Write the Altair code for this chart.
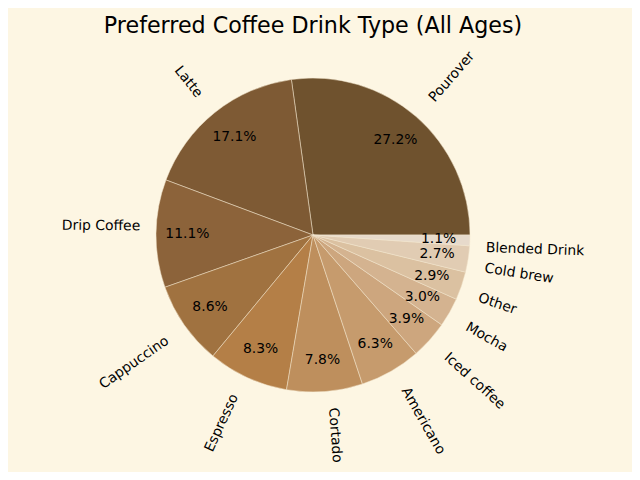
import math
import altair as alt
import pandas as pd

drinks = ["Pourover", "Latte", "Drip Coffee", "Cappuccino", "Espresso", "Cortado",
          "Americano", "Iced coffee", "Mocha", "Other", "Cold brew", "Blended Drink"]
shares = [27.2, 17.1, 11.1, 8.6, 8.3, 7.8, 6.3, 3.9, 3.0, 2.9, 2.7, 1.1]
colors = ["#6F522E", "#7E5A34", "#8C633A", "#A07240", "#B47F47", "#BE8F5D",
          "#C69B6D", "#CDA67E", "#D4B390", "#DBC1A1", "#E1CCB3", "#E7DACB"]

BG = "#fdf6e3"
FONT = "DejaVu Sans"
FS = 13.9          # label font size (10pt)
R = 157            # pie radius in px
LABEL_R = 1.1 * R  # label distance
PCT_R = 0.8 * R    # percentage distance
HALF_H = 7.0       # half the height of a label box

df = pd.DataFrame({"drink": drinks, "share": shares, "order": list(range(len(drinks)))})

theta_scale = alt.Scale(domain=[0, 100], range=[math.pi / 2, math.pi / 2 + 2 * math.pi])
color_enc = alt.Color("drink:N", scale=alt.Scale(domain=drinks, range=colors), legend=None)

base = alt.Chart(df)

arcs = base.mark_arc(outerRadius=R, stroke="#f3e6cf", strokeWidth=0.5).encode(
    theta=alt.Theta("tstart:Q", scale=theta_scale, stack=None),
    theta2="tend:Q",
    color=color_enc,
)

pct_text = base.mark_text(radius=PCT_R, font=FONT, fontSize=FS, color="black",
                          align="center", baseline="middle").encode(
    theta=alt.Theta("tmid:Q", scale=theta_scale, stack=None),
    text="pctlabel:N",
)

label_layers = []
for align, cond in (("left", "datum.cx > 0"), ("right", "datum.cx <= 0")):
    lyr = base.transform_filter(cond).mark_text(
        font=FONT, fontSize=FS, color="black", align=align, baseline="middle",
    ).encode(
        theta=alt.Theta("ltheta:Q", scale=theta_scale, stack=None),
        radius=alt.Radius("lrad:Q", scale=None),
        text="drink:N",
        angle=alt.Angle("vangle:Q", scale=None),
    )
    label_layers.append(lyr)

chart = alt.layer(arcs, pct_text, *label_layers).transform_joinaggregate(
    total="sum(share)"
).transform_calculate(
    pct="datum.share / datum.total * 100"
).transform_window(
    cum="sum(pct)", sort=[alt.SortField("order")], frame=[None, 0]
).transform_calculate(
    tstart="100 - datum.cum",
    tend="100 - datum.cum + datum.pct",
    tmid="100 - datum.cum + datum.pct / 2",
    phideg="(datum.cum - datum.pct / 2) * 3.6",
    pctlabel="format(datum.pct, '.1f') + '%'",
).transform_calculate(
    phi="datum.phideg * PI / 180",
).transform_calculate(
    cx="cos(datum.phi)",
    sy="sin(datum.phi)",
).transform_calculate(
    rotdeg="datum.cx > 0 ? datum.phideg : datum.phideg + 180",
    kk="datum.cx * datum.sy > 0 ? 1 : -1",
).transform_calculate(
    vangle="(720 - datum.rotdeg) % 360",
    radc=f"{LABEL_R} + {HALF_H} * abs(sin(2 * datum.phi))",
    tanc=f"datum.kk * {HALF_H} * cos(2 * datum.phi)",
).transform_calculate(
    lrad="sqrt(datum.radc * datum.radc + datum.tanc * datum.tanc)",
    lphideg="datum.phideg + atan2(datum.tanc, datum.radc) * 180 / PI",
).transform_calculate(
    ltheta="100 - datum.lphideg / 3.6",
).properties(
    width=610,
    height=374,
    padding={"left": 0, "top": 40, "right": 14, "bottom": 50},
    autosize=alt.AutoSizeParams(type="none"),
    background=BG,
    title=alt.TitleParams(
        "Preferred Coffee Drink Type (All Ages)",
        font=FONT, fontSize=22.2, fontWeight="normal", color="black",
        anchor="middle", offset=11,
    ),
).configure_view(stroke=None)

chart.save("out.html", embed_options={"renderer": "svg", "actions": False})
